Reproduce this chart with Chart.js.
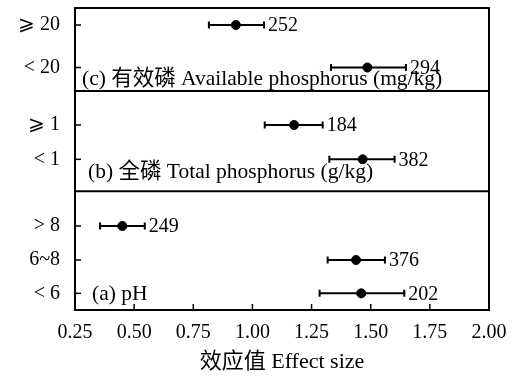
<!DOCTYPE html>
<html>
<head>
<meta charset="utf-8">
<script src="https://cdn.jsdelivr.net/npm/chart.js@4.4.1/dist/chart.umd.min.js"></script>
<style>
  html, body { margin: 0; padding: 0; background: #fff; }
  #wrap { width: 516px; height: 379px; }
</style>
</head>
<body>
<div id="wrap"><canvas id="forestChart" width="516" height="379"></canvas></div>
<script>
// Данные (сверху вниз, как на рисунке)
const panelTitles = ['(c) 有效磷 Available phosphorus (mg/kg)', '(b) 全磷 Total phosphorus (g/kg)', '(a) pH'];
const categories = ['⩾ 20', '< 20', '⩾ 1', '< 1', '> 8', '6~8', '< 6'];
const effectSize = [0.93, 1.486, 1.176, 1.466, 0.45, 1.438, 1.46];
const ciLow = [0.816, 1.332, 1.052, 1.325, 0.356, 1.318, 1.284];
const ciHigh = [1.049, 1.649, 1.297, 1.601, 0.545, 1.56, 1.642];
const sampleSize = [252, 294, 184, 382, 249, 376, 202];
const xTicks = [0.25, 0.5, 0.75, 1.0, 1.25, 1.5, 1.75, 2.0];

// Раскладка по оси Y (позиции строк и разделителей панелей)
const rowY = [8.38, 7.13, 5.44, 4.43, 2.47, 1.47, 0.49];
const separatorY = [6.44, 3.49];
const panelLabelY = [6.82, 4.07, 0.49];
const panelLabelDx = [7, 13, 17];
const yMax = 8.88;

const FONT = "'Liberation Serif', 'DejaVu Serif', 'Noto Sans CJK SC', serif";

const forestPlugin = {
    id: 'forestPlugin',
    beforeDatasetsDraw(chart) {
        const ctx = chart.ctx;
        const xs = chart.scales.x, ys = chart.scales.y;
        ctx.save();
        ctx.strokeStyle = '#000';
        ctx.lineWidth = 2;
        categories.forEach((c, i) => {
            const y = ys.getPixelForValue(rowY[i]);
            const x1 = xs.getPixelForValue(ciLow[i]);
            const x2 = xs.getPixelForValue(ciHigh[i]);
            ctx.beginPath();
            ctx.moveTo(x1, y); ctx.lineTo(x2, y);
            ctx.moveTo(x1, y - 3.5); ctx.lineTo(x1, y + 3.5);
            ctx.moveTo(x2, y - 3.5); ctx.lineTo(x2, y + 3.5);
            ctx.stroke();
        });
        ctx.restore();
    },
    afterDatasetsDraw(chart) {
        const ctx = chart.ctx;
        const xs = chart.scales.x, ys = chart.scales.y;
        const a = chart.chartArea;
        ctx.save();
        ctx.fillStyle = '#000';
        ctx.strokeStyle = '#000';
        ctx.textBaseline = 'middle';
        ctx.textAlign = 'left';

        // подписи количества наблюдений
        ctx.font = '20px ' + FONT;
        categories.forEach((c, i) => {
            ctx.fillText(String(sampleSize[i]), xs.getPixelForValue(ciHigh[i]) + 4, ys.getPixelForValue(rowY[i]) + 1);
        });

        // названия панелей
        ctx.font = '21.5px ' + FONT;
        panelTitles.forEach((t, i) => {
            ctx.fillText(t, a.left + panelLabelDx[i], ys.getPixelForValue(panelLabelY[i]) + 1);
        });

        // рамка и разделители
        ctx.lineWidth = 2;
        ctx.strokeRect(a.left, a.top, a.right - a.left, a.bottom - a.top);
        separatorY.forEach(v => {
            const y = ys.getPixelForValue(v);
            ctx.beginPath();
            ctx.moveTo(a.left, y); ctx.lineTo(a.right, y);
            ctx.stroke();
        });

        // засечки внутрь
        ctx.lineWidth = 1.5;
        xTicks.forEach(v => {
            const x = xs.getPixelForValue(v);
            ctx.beginPath();
            ctx.moveTo(x, a.bottom); ctx.lineTo(x, a.bottom - 6);
            ctx.stroke();
        });
        rowY.forEach(v => {
            const y = ys.getPixelForValue(v);
            ctx.beginPath();
            ctx.moveTo(a.left, y); ctx.lineTo(a.left + 6, y);
            ctx.stroke();
        });
        ctx.restore();
    }
};

const ctx = document.getElementById('forestChart').getContext('2d');
new Chart(ctx, {
    type: 'scatter',
    data: {
        datasets: [{
            data: effectSize.map((v, i) => ({ x: v, y: rowY[i] })),
            backgroundColor: '#000',
            borderColor: '#000',
            pointRadius: 4.5,
            pointHoverRadius: 4.5
        }]
    },
    options: {
        responsive: false,
        animation: false,
        layout: { padding: { top: 8, right: 27, left: 0, bottom: 0 } },
        plugins: {
            legend: { display: false },
            tooltip: { enabled: false }
        },
        scales: {
            x: {
                type: 'linear',
                min: 0.25,
                max: 2.0,
                afterBuildTicks: scale => { scale.ticks = xTicks.map(v => ({ value: v })); },
                afterFit: scale => {
                    scale.height = 69;
                    scale.paddingLeft = 0;
                    scale.paddingRight = 0;
                },
                grid: { display: false, drawTicks: false },
                border: { display: false },
                ticks: {
                    color: '#000',
                    font: { family: FONT, size: 20 },
                    padding: 11,
                    maxRotation: 0,
                    callback: v => Number(v).toFixed(2)
                },
                title: {
                    display: true,
                    text: '效应值 Effect size',
                    color: '#000',
                    font: { family: FONT, size: 22 },
                    padding: { top: 4, bottom: 4 }
                }
            },
            y: {
                type: 'linear',
                min: 0,
                max: yMax,
                afterBuildTicks: scale => { scale.ticks = rowY.map(v => ({ value: v })); },
                afterFit: scale => {
                    scale.width = 75;
                    scale.paddingTop = 0;
                    scale.paddingBottom = 0;
                },
                grid: { display: false, drawTicks: false },
                border: { display: false },
                ticks: {
                    color: '#000',
                    autoSkip: false,
                    font: { family: FONT, size: 20 },
                    padding: 15,
                    callback: (v, idx) => categories[idx]
                }
            }
        }
    },
    plugins: [forestPlugin]
});
</script>
</body>
</html>
